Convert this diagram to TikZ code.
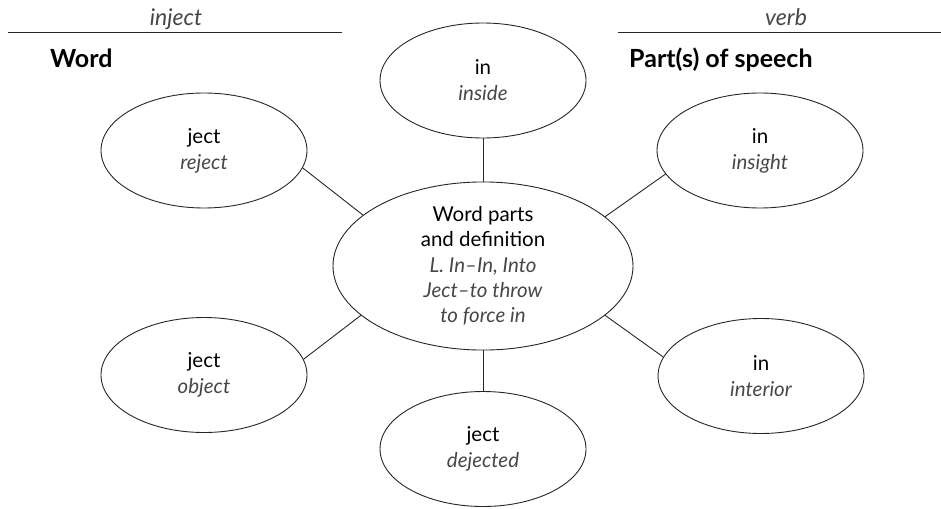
\documentclass[tikz,border=0pt]{standalone}
\usepackage{fontspec}
\setmainfont{Lato}
\usetikzlibrary{shapes.geometric}
\newcommand\hw{\itshape\color{black!72}}
\begin{document}
\begin{tikzpicture}[x=1pt,y=-1pt,
  bubble/.style={ellipse, draw=black!85, line width=0.9pt, minimum width=206pt,
    minimum height=115pt, inner sep=0pt, align=center,
    font=\fontsize{20.5}{26}\selectfont},
  link/.style={draw=black!85, line width=0.9pt},
  rule/.style={draw=black!85, line width=0.9pt},
  heading/.style={font=\fontsize{25}{28}\selectfont\bfseries, inner sep=0pt, anchor=base west},
  answer/.style={font=\fontsize{23}{26}\selectfont\hw, inner sep=0pt, anchor=base}]
\useasboundingbox (0,0) rectangle (941,508);
% header lines
\coordinate (l1) at (8,32);
\coordinate (l2) at (342,32);
\coordinate (r1) at (618,32);
\coordinate (r2) at (941,32);
\draw[rule] (l1) -- (l2);
\draw[rule] (r1) -- (r2);
\node[answer] (inj) at (176,26) {inject};
\node[answer] (verb) at (786,26) {verb};
\node[heading] (word) at (50,68) {Word};
\node[heading] (pos) at (629,68) {Part(s) of speech};
% bubbles
\node[bubble] (top) at (483,80.5) {in\\{\hw inside}};
\node[bubble] (rej) at (204,150.5) {ject\\{\hw reject}};
\node[bubble] (ins) at (760,150.5) {in\\{\hw insight}};
\node[bubble] (obj) at (204,375) {ject\\{\hw object}};
\node[bubble] (int) at (761,376) {in\\{\hw interior}};
\node[bubble] (dej) at (483,449) {ject\\{\hw dejected}};
\node[bubble, minimum width=300pt, minimum height=168pt, font=\fontsize{20.5}{25.3}\selectfont] (c) at (483,266)
  {Word parts\\and definition\\{\hw L. In–In, Into}\\{\hw Ject–to throw}\\{\hw to force in}};
% connectors
\draw[link] (c.north) -- (top.south);
\draw[link] (c.south) -- (dej.north);
\draw[link] (c.157.5) -- (rej.-10.6);
\draw[link] (c.22.5) -- (ins.194.3);
\draw[link] (c.-22) -- (int.169.7);
\draw[link] (c.202) -- (obj.9.6);
\end{tikzpicture}
\end{document}
